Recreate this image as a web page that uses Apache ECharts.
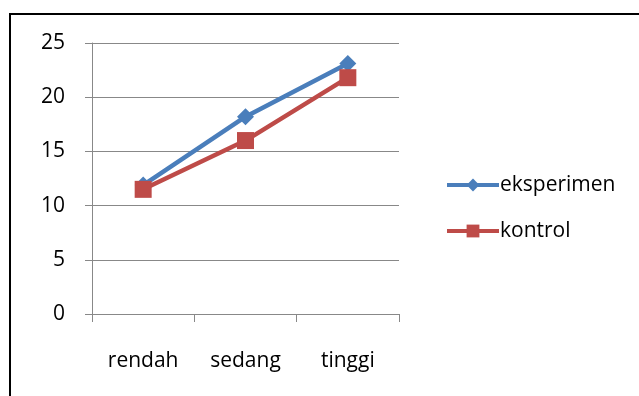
<!DOCTYPE html>
<html>
<head>
<meta charset="utf-8">
<script src="https://cdn.jsdelivr.net/npm/echarts@6/dist/echarts.min.js"></script>
<style>
  html, body { margin: 0; padding: 0; background: #fff; }
  #chart { width: 639px; height: 396px; }
</style>
</head>
<body>
<div id="chart"></div>
<script>
// Categories and series values
const categories = ['rendah', 'sedang', 'tinggi'];
const eksperimen = [11.9, 18.2, 23.1];
const kontrol = [11.5, 16.0, 21.8];
const yTicks = [0, 5, 10, 15, 20, 25];

const FONT = 'Open Sans';
const FONT_SIZE = 21;
const chart = echarts.init(document.getElementById('chart'));

chart.setOption({
  backgroundColor: '#fff',
  animation: false,
  textStyle: { fontFamily: FONT },
  graphic: [{
    type: 'rect',
    shape: { x: 10, y: 14, width: 640, height: 400 },
    style: { fill: 'none', stroke: '#000', lineWidth: 2 },
    silent: true
  }],
  grid: { left: 92, right: 240, top: 43, bottom: 82 },
  legend: {
    orient: 'vertical',
    left: 440,
    top: 168,
    itemGap: 22,
    itemWidth: 52,
    itemHeight: 16,
    lineStyle: { width: 4 },
    textStyle: {
      fontFamily: FONT, fontSize: FONT_SIZE, lineHeight: 24,
      color: '#000', padding: [0, 0, 0, -4]
    },
    data: ['eksperimen', 'kontrol']
  },
  xAxis: {
    type: 'category',
    data: categories,
    boundaryGap: true,
    axisLine: { lineStyle: { color: '#888', width: 1 } },
    axisTick: { show: true, length: 8, lineStyle: { color: '#888' } },
    axisLabel: { color: '#000', fontSize: FONT_SIZE, fontFamily: FONT, margin: 37 },
    splitLine: { show: false }
  },
  yAxis: {
    type: 'value',
    min: yTicks[0],
    max: yTicks[yTicks.length - 1],
    interval: 5,
    axisLine: { show: true, lineStyle: { color: '#888', width: 1 } },
    axisTick: { show: true, length: 7, lineStyle: { color: '#888' } },
    axisLabel: { color: '#000', fontSize: FONT_SIZE, fontFamily: FONT, margin: 27 },
    splitLine: { show: true, lineStyle: { color: '#888', width: 1 } }
  },
  series: [
    {
      name: 'eksperimen',
      type: 'line',
      data: eksperimen,
      symbol: 'diamond',
      symbolSize: 17,
      color: '#4a7ebb',
      lineStyle: { width: 4.5, color: '#4a7ebb' },
      itemStyle: { color: '#4a7ebb' },
      z: 2
    },
    {
      name: 'kontrol',
      type: 'line',
      data: kontrol,
      symbol: 'rect',
      symbolSize: 17,
      color: '#be4b48',
      lineStyle: { width: 4.5, color: '#be4b48' },
      itemStyle: { color: '#be4b48' },
      z: 3
    }
  ]
});
</script>
</body>
</html>
